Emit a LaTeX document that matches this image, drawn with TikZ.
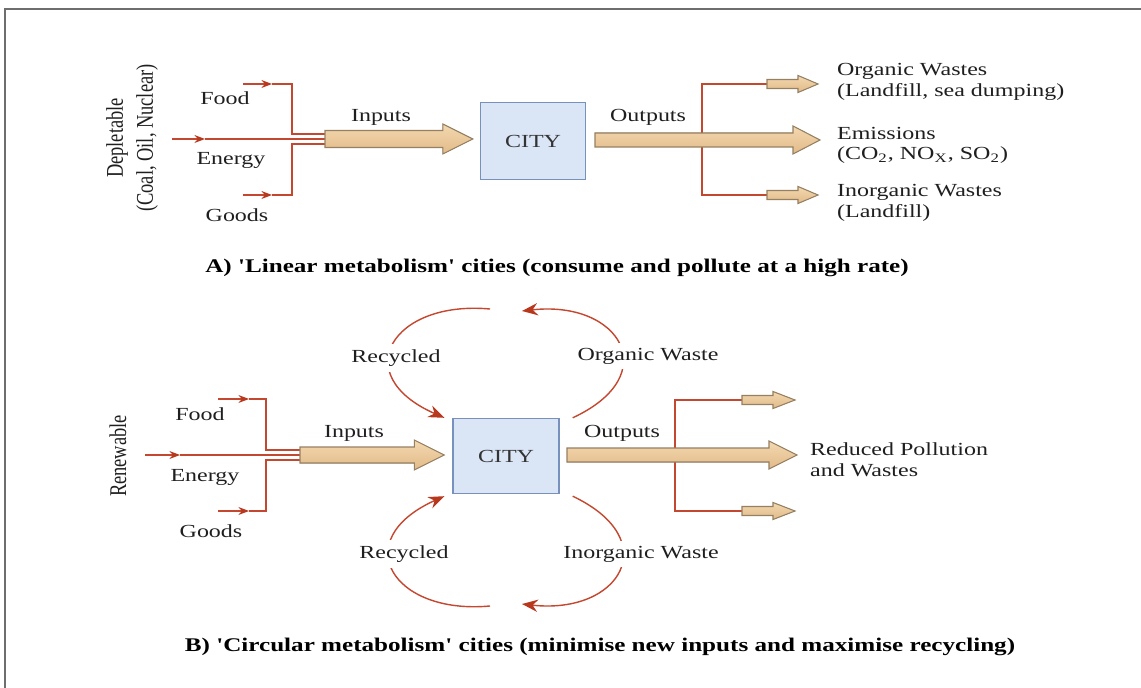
\documentclass[tikz,border=0pt]{standalone}
\usepackage{fontspec}
\newfontfamily\tfont{Liberation Serif}
\usetikzlibrary{arrows.meta,calc}
\definecolor{lred}{RGB}{196,72,48}
\definecolor{dred}{RGB}{184,56,30}
\definecolor{tantop}{RGB}{243,216,176}
\definecolor{tanbot}{RGB}{226,186,136}
\definecolor{tanedge}{RGB}{150,128,98}
\definecolor{cityfill}{RGB}{218,229,246}
\definecolor{cityedge}{RGB}{120,144,188}
\definecolor{framegray}{RGB}{110,110,110}
\newcommand{\sx}[1]{\scalebox{1.3}[1]{#1}}
\newcommand{\rx}[1]{\scalebox{1}[1.3]{#1}}
\newcommand{\fatarr}[5]{%
  \filldraw[fat] ($(#1)+(0,-#3)$) -- ($(#2)+(-#5,-#3)$) -- ($(#2)+(-#5,-#4)$) -- (#2)
    -- ($(#2)+(-#5,#4)$) -- ($(#2)+(-#5,#3)$) -- ($(#1)+(0,#3)$) -- cycle;}
\tikzset{
  lbl/.style={font=\tfont\fontsize{10.5}{12}\selectfont, inner sep=1pt, text=black!88},
  arclbl/.style={lbl, fill=white, inner sep=3pt},
  captxt/.style={font=\tfont\fontsize{11}{13}\selectfont\bfseries, inner sep=1pt},
  redline/.style={draw=lred, line width=0.8pt},
  redarr/.style={redline, -{Stealth[length=6pt,width=4.5pt,color=dred]}},
  arcarr/.style={redline, -{Stealth[length=9pt,width=7pt,color=dred]}},
  fat/.style={top color=tantop, bottom color=tanbot, draw=tanedge, line width=0.6pt, line join=miter},
  citybox/.style={draw=cityedge, fill=cityfill, line width=0.8pt, inner sep=0pt,
    font=\tfont\fontsize{10.5}{12}\selectfont, text=black!80},
}
\begin{document}
\begin{tikzpicture}[x=0.02cm,y=-0.02cm]
\useasboundingbox (0,0) rectangle (1141,688);
\fill[white] (0,0) rectangle (1141,688);
\draw[framegray, line width=1.1pt] (5,688) -- (5,9) -- (1141,9);

% ================= A: linear metabolism =================
\node[lbl, rotate=90] (deplA) at (117,138) {\rx{Depletable}};
\node[lbl, rotate=90] (deplB) at (147,138) {\rx{(Coal, Oil, Nuclear)}};

\node[citybox, minimum width=2.1cm, minimum height=1.54cm] (cityA) at (533,141) {\sx{CITY}};

% input lines
\coordinate (fA0) at (243,84);  \coordinate (fAm) at (272,84);  \coordinate (fAc) at (292,84);
\coordinate (gA0) at (243,195); \coordinate (gAm) at (272,195); \coordinate (gAc) at (292,195);
\coordinate (eA0) at (172,139); \coordinate (eAm) at (205,139);
\coordinate (inA) at (325,139);
\coordinate (inAt) at (325,134); \coordinate (inAb) at (325,144);
\coordinate (inAtip) at ($(cityA.west)+(-7,-2)$);
\draw[redarr] (fA0) -- (fAm);
\draw[redline] (fAm) -- (fAc) |- (inAt);
\draw[redarr] (gA0) -- (gAm);
\draw[redline] (gAm) -- (gAc) |- (inAb);
\draw[redarr] (eA0) -- (eAm);
\draw[redline] (eAm) -- (inA);
\fatarr{inA}{inAtip}{8.5}{15}{30}

% outputs
\coordinate (outA) at (595,140);
\coordinate (outAtip) at (820,140);
\coordinate (brAt) at (702,84); \coordinate (brAb) at (702,195);
\coordinate (oA1) at (767,84);  \coordinate (oA1tip) at (818,84);
\coordinate (oA3) at (767,195); \coordinate (oA3tip) at (818,195);
\draw[redline] (oA1) -- (brAt) -- (brAb) -- (oA3);
\fatarr{outA}{outAtip}{7}{14}{27}
\fatarr{oA1}{oA1tip}{4.5}{8.5}{20}
\fatarr{oA3}{oA3tip}{4.5}{8.5}{20}

\node[lbl] (foodA) at (225,98) {\sx{Food}};
\node[lbl] (enA) at (231,160) {\sx{Energy}};
\node[lbl] (goodsA) at (237,215) {\sx{Goods}};
\node[lbl] (inputsA) at (381,117) {\sx{Inputs}};
\node[lbl] (outputsA) at (648,117) {\sx{Outputs}};

\node[lbl, anchor=west] (owA1) at (835,71) {\sx{Organic Wastes}};
\node[lbl, anchor=west] (owA2) at (835,92) {\sx{(Landfill, sea dumping)}};
\node[lbl, anchor=west] (emA1) at (835,133) {\sx{Emissions}};
\node[lbl, anchor=west] (emA2) at (835,155) {\sx{(CO\textsubscript{2}, NO\textsubscript{X}, SO\textsubscript{2})}};
\node[lbl, anchor=west] (iwA1) at (835,192) {\sx{Inorganic Wastes}};
\node[lbl, anchor=west] (iwA2) at (835,213) {\sx{(Landfill)}};

\node[captxt] (capA) at (557,268) {\sx{A) 'Linear metabolism' cities (consume and pollute at a high rate)}};

% ================= B: circular metabolism =================
\node[lbl, rotate=90] (renew) at (118,456) {\rx{Renewable}};

\node[citybox, minimum width=2.12cm, minimum height=1.5cm] (cityB) at (506,456) {\sx{CITY}};

\coordinate (fB0) at (218,399); \coordinate (fBm) at (249,399); \coordinate (fBc) at (266,399);
\coordinate (gB0) at (218,511); \coordinate (gBm) at (249,511); \coordinate (gBc) at (266,511);
\coordinate (eB0) at (145,455); \coordinate (eBm) at (180,455);
\coordinate (inB) at (300,455);
\coordinate (inBt) at (300,450); \coordinate (inBb) at (300,460);
\coordinate (inBtip) at ($(cityB.west)+(-8,-1)$);
\draw[redarr] (fB0) -- (fBm);
\draw[redline] (fBm) -- (fBc) |- (inBt);
\draw[redarr] (gB0) -- (gBm);
\draw[redline] (gBm) -- (gBc) |- (inBb);
\draw[redarr] (eB0) -- (eBm);
\draw[redline] (eBm) -- (inB);
\fatarr{inB}{inBtip}{8}{15}{30}

\coordinate (outB) at (567,455);
\coordinate (outBtip) at (797,455);
\coordinate (brBt) at (675,400); \coordinate (brBb) at (675,511);
\coordinate (oB1) at (742,400);  \coordinate (oB1tip) at (795,400);
\coordinate (oB3) at (742,511);  \coordinate (oB3tip) at (795,511);
\draw[redline] (oB1) -- (brBt) -- (brBb) -- (oB3);
\fatarr{outB}{outBtip}{7}{14}{28}
\fatarr{oB1}{oB1tip}{4.5}{8.5}{22}
\fatarr{oB3}{oB3tip}{4.5}{8.5}{22}

% recycling loops
\coordinate (l1s) at ($(cityB.north east)+(13,0)$);
\coordinate (l1e) at (522,311);
\coordinate (l2s) at (490,309);
\coordinate (l2e) at ($(cityB.north west)+(-8,0)$);
\coordinate (l3s) at ($(cityB.south east)+(13,2)$);
\coordinate (l3e) at (522,604);
\coordinate (l4s) at (490,606);
\coordinate (l4e) at ($(cityB.south west)+(-8,2)$);
\draw[arcarr] (l1s) .. controls (665,375) and (620,300) .. (l1e);
\draw[arcarr] (l2s) .. controls (392,300) and (347,375) .. (l2e);
\draw[arcarr] (l3s) .. controls (665,540) and (620,615) .. (l3e);
\draw[arcarr] (l4s) .. controls (392,615) and (347,540) .. (l4e);

\node[arclbl] (recT) at (396,358) {\sx{Recycled}};
\node[arclbl] (orgW) at (648,356) {\sx{Organic Waste}};
\node[arclbl] (recB) at (404,554) {\sx{Recycled}};
\node[arclbl] (inoW) at (641,554) {\sx{Inorganic Waste}};

\node[lbl] (foodB) at (200,414) {\sx{Food}};
\node[lbl] (enB) at (205,477) {\sx{Energy}};
\node[lbl] (goodsB) at (211,531) {\sx{Goods}};
\node[lbl] (inputsB) at (354,433) {\sx{Inputs}};
\node[lbl] (outputsB) at (622,433) {\sx{Outputs}};
\node[lbl, anchor=west] (redB1) at (808,449) {\sx{Reduced Pollution}};
\node[lbl, anchor=west] (redB2) at (808,470) {\sx{and Wastes}};

\node[captxt] (capB) at (600,647) {\sx{B) 'Circular metabolism' cities (minimise new inputs and maximise recycling)}};
\end{tikzpicture}
\end{document}
